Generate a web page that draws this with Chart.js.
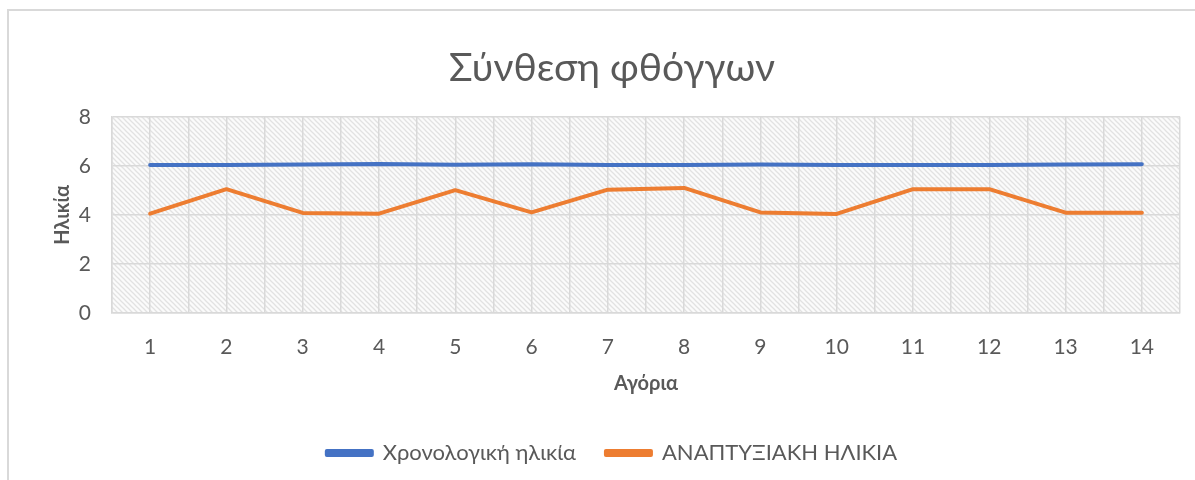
<!DOCTYPE html>
<html>
<head>
<meta charset="utf-8">
<script src="https://cdn.jsdelivr.net/npm/chart.js@4.4.1/dist/chart.umd.min.js"></script>
<style>
  html, body { margin: 0; padding: 0; background: #fff; overflow: hidden; width: 1195px; height: 480px; }
  #frame { position: absolute; left: 7px; top: 9px; width: 1300px; height: 600px; border: 2px solid #d9d9d9; box-sizing: border-box; }
  #wrap { position: absolute; left: 0; top: 0; width: 1224px; height: 480px; }
</style>
</head>
<body>
<div id="frame"></div>
<div id="wrap"><canvas id="c" width="1224" height="480"></canvas></div>
<script>
const chartTitle = 'Σύνθεση φθόγγων';
const xTitle = 'Αγόρια';
const yTitle = 'Ηλικία';
const categories = [1, 2, 3, 4, 5, 6, 7, 8, 9, 10, 11, 12, 13, 14];
const seriesNames = ['Χρονολογική ηλικία', 'ΑΝΑΠΤΥΞΙΑΚΗ ΗΛΙΚΙΑ'];
const chronological = [6.03, 6.03, 6.05, 6.08, 6.04, 6.07, 6.03, 6.03, 6.05, 6.03, 6.03, 6.03, 6.05, 6.07];
const developmental = [4.05, 5.05, 4.08, 4.05, 5.01, 4.10, 5.03, 5.10, 4.10, 4.04, 5.05, 5.05, 4.09, 4.09];
const yTicks = [0, 2, 4, 6, 8];

const FONT = "Lato, 'Open Sans', 'Noto Sans', sans-serif";
const TXT = '#595959';
const GRID = '#d9d9d9';

function makePattern() {
  const s = 5;
  const p = document.createElement('canvas');
  p.width = s; p.height = s;
  const g = p.getContext('2d');
  g.fillStyle = '#fbfbfb';
  g.fillRect(0, 0, s, s);
  g.strokeStyle = '#e2e2e2';
  g.lineWidth = 1.3;
  for (const c of [-s, 0, s]) {
    g.beginPath();
    g.moveTo(-1, -1 + c);
    g.lineTo(s + 1, s + 1 + c);
    g.stroke();
  }
  return p;
}

const hatch = {
  id: 'hatch',
  beforeDraw(chart) {
    const {ctx, chartArea: a} = chart;
    ctx.save();
    ctx.fillStyle = ctx.createPattern(makePattern(), 'repeat');
    ctx.fillRect(a.left, a.top, a.right - a.left, a.bottom - a.top);
    ctx.restore();
  }
};

const toXY = vals => vals.map((v, i) => ({x: categories[i], y: v}));

new Chart(document.getElementById('c'), {
  type: 'line',
  data: {
    datasets: [
      { label: seriesNames[0], data: toXY(chronological), borderColor: '#4472C4', backgroundColor: '#4472C4',
        borderWidth: 4, pointRadius: 0, tension: 0, borderCapStyle: 'round', borderJoinStyle: 'round' },
      { label: seriesNames[1], data: toXY(developmental), borderColor: '#ED7D31', backgroundColor: '#ED7D31',
        borderWidth: 4, pointRadius: 0, tension: 0, borderCapStyle: 'round', borderJoinStyle: 'round' }
    ]
  },
  options: {
    responsive: false,
    animation: false,
    devicePixelRatio: 1,
    layout: { padding: { left: 0, right: 0, top: 0, bottom: 6 } },
    plugins: {
      title: { display: true, text: chartTitle, color: TXT, font: { family: FONT, size: 39, weight: 'normal' },
               padding: { top: 45, bottom: 25 } },
      legend: { position: 'bottom', labels: { color: TXT, font: { family: FONT, size: 22 }, boxWidth: 45, boxHeight: 4, padding: 30 } },
      tooltip: { enabled: false }
    },
    scales: {
      x: {
        type: 'linear', min: categories[0] - 0.5, max: categories[categories.length - 1] + 0.5,
        afterFit: s => { s.height = 99; },
        grid: { color: GRID, lineWidth: 1.5, drawTicks: false },
        border: { color: GRID, width: 1.5 },
        ticks: { stepSize: 0.5, autoSkip: false, maxRotation: 0, padding: 22, color: TXT,
                 font: { family: FONT, size: 21 },
                 callback: v => (Number.isInteger(v) && categories.includes(v)) ? String(v) : '' },
        title: { display: true, text: xTitle, color: TXT, font: { family: FONT, size: 20, weight: 'bold' },
                 padding: { top: 0, bottom: 16 } }
      },
      y: {
        min: yTicks[0], max: yTicks[yTicks.length - 1],
        afterFit: s => { s.width = 112; },
        afterBuildTicks: s => { s.ticks = yTicks.map(v => ({value: v})); },
        grid: { color: GRID, lineWidth: 1.5, drawTicks: false },
        border: { color: GRID, width: 1.5 },
        ticks: { color: TXT, padding: 21, font: { family: FONT, size: 21 } },
        title: { display: true, text: yTitle, color: TXT, font: { family: FONT, size: 20, weight: 'bold' },
                 padding: { top: 51, bottom: 0 } }
      },
      spacer: {
        type: 'linear', position: 'right', display: true,
        afterFit: s => { s.width = 44; },
        grid: { display: false, drawTicks: false }, border: { display: false },
        ticks: { display: false }
      }
    }
  },
  plugins: [hatch]
});
</script>
</body>
</html>
